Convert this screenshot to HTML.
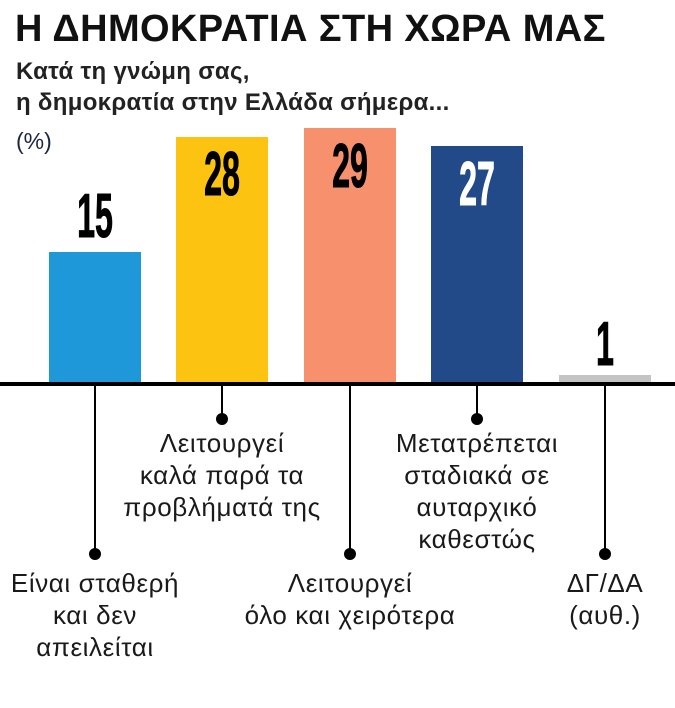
<!DOCTYPE html>
<html><head><meta charset="utf-8"><style>
body{margin:0;width:675px;height:708px;background:#fff;overflow:hidden;font-family:"Liberation Sans",sans-serif;position:relative;color:#111}
.t{position:absolute;white-space:nowrap}
.bar{position:absolute;width:92px}
.num{position:absolute;font-weight:bold;font-size:62px;line-height:1;transform:scaleX(0.52);transform-origin:center top;width:92px;text-align:center;color:#000;-webkit-text-stroke:1px currentColor}
.lab{position:absolute;font-size:26px;letter-spacing:0.6px;line-height:32px;text-align:center;color:#1a1a1a;white-space:nowrap;transform:translateX(-50%)}
.ln{position:absolute;width:2px;background:#000}
.dot{position:absolute;width:12px;height:12px;border-radius:50%;background:#000}
</style></head><body>
<div class="t" style="left:15px;top:8px;font-size:38px;font-weight:bold;color:#111;letter-spacing:0.4px">Η ΔΗΜΟΚΡΑΤΙΑ ΣΤΗ ΧΩΡΑ ΜΑΣ</div>
<div class="t" style="left:16px;top:56px;font-size:24px;font-weight:bold;line-height:31px;color:#222;letter-spacing:0.3px">Κατά τη γνώμη σας,<br>η δημοκρατία στην Ελλάδα σήμερα...</div>
<div class="t" style="left:16px;top:128px;font-size:23px;color:#1c2540">(%)</div>

<div class="bar" style="left:49px;top:252px;height:130px;background:#1e98d8"></div>
<div class="bar" style="left:176px;top:137px;height:245px;background:#fcc410"></div>
<div class="bar" style="left:304px;top:128px;height:254px;background:#f6906d"></div>
<div class="bar" style="left:431px;top:146px;height:236px;background:#224a89"></div>
<div class="bar" style="left:559px;top:375px;height:7px;background:#c4c4c4"></div>

<div class="num" style="left:49px;top:186px">15</div>
<div class="num" style="left:176px;top:144px">28</div>
<div class="num" style="left:304px;top:136px">29</div>
<div class="num" style="left:431px;top:154px;color:#fff">27</div>
<div class="num" style="left:559px;top:314px">1</div>

<div style="position:absolute;left:0;top:382px;width:675px;height:4px;background:#000"></div>

<div class="ln" style="left:94px;top:384px;height:170px"></div><div class="dot" style="left:89px;top:548px"></div>
<div class="ln" style="left:221px;top:384px;height:35px"></div><div class="dot" style="left:216px;top:413px"></div>
<div class="ln" style="left:349px;top:384px;height:170px"></div><div class="dot" style="left:344px;top:548px"></div>
<div class="ln" style="left:476px;top:384px;height:35px"></div><div class="dot" style="left:471px;top:413px"></div>
<div class="ln" style="left:604px;top:384px;height:170px"></div><div class="dot" style="left:599px;top:548px"></div>

<div class="lab" style="left:222px;top:427px">Λειτουργεί<br>καλά παρά τα<br>προβλήματά της</div>
<div class="lab" style="left:477px;top:427px">Μετατρέπεται<br>σταδιακά σε<br>αυταρχικό<br>καθεστώς</div>
<div class="lab" style="left:95px;top:567px">Είναι σταθερή<br>και δεν<br>απειλείται</div>
<div class="lab" style="left:350px;top:567px">Λειτουργεί<br>όλο και χειρότερα</div>
<div class="lab" style="left:605px;top:567px">ΔΓ/ΔΑ<br>(αυθ.)</div>
</body></html>
